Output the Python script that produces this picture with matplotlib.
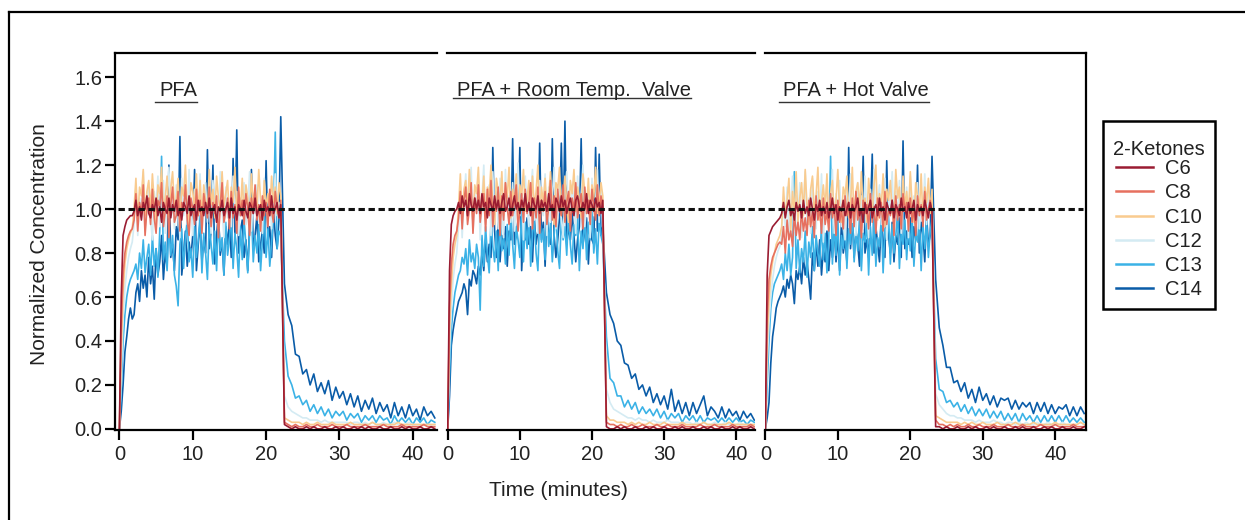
import numpy as np
import matplotlib
matplotlib.use("Agg")
import matplotlib.pyplot as plt
from matplotlib.lines import Line2D
from matplotlib import transforms
from matplotlib.offsetbox import DrawingArea

plt.rcParams['font.family'] = ['Liberation Sans', 'DejaVu Sans']
plt.rcParams['lines.scale_dashes'] = False

W, H, DPI = 1245, 520, 100

# ---------------- data ----------------
ON_STEP_MIN = 0.25    # sampling interval while the ketones flow (minutes)
OFF_STEP_MIN = 0.5    # sampling interval after the flow is switched off
REFERENCE_LEVEL = 1.0
panel_titles = ["PFA", "PFA + Room Temp.  Valve", "PFA + Hot Valve"]
ketones = ["C6", "C8", "C10", "C12", "C13", "C14"]
ketone_colors = ["#9A1C32", "#E6705F", "#F9CB8F", "#D4EBF3", "#3BB2E6", "#0A5CA8"]
x_ticks = [0, 10, 20, 30, 40]
x_tick_labels = ["0", "10", "20", "30", "40"]
y_ticks = [0.0, 0.2, 0.4, 0.6, 0.8, 1.0, 1.2, 1.4, 1.6]
y_tick_labels = ["0.0", "0.2", "0.4", "0.6", "0.8", "1.0", "1.2", "1.4", "1.6"]
x_label = "Time (minutes)"
y_label = "Normalized Concentration"
legend_title = "2-Ketones"

# normalized concentration x100
# ---- panel 1: PFA ----
p1_c6_on = """0 60 88 92 95 96 97 97
99 104 97 101 95 103 100 106 98 96
102 99 105 97 101 94 103 100 98 105
96 102 99 104 97 100 95 103 101 98
106 97 100 102 95 104 99 101 97 103
98 105 96 100 102 94 101 99 104 97
100 103 96 105 98 101 95 102 100 97
104 99 96 103 101 98 105 97 100 102
95 104 99 101 97 106 98 100 103 96
102"""
p1_c6_off = """2 1 0 1 0 0 1 0 1 0 0 1 0 0 1 0 1 0 0 1
0 1 0 1 0 0 1 0 0 1 0 0 1 0 1 0 0 1 0 0 1 0"""
p1_c8_on = """0 45 70 80 85 88 90 91
95 107 90 103 98 111 88 100 105 93
109 96 89 104 101 112 92 99 106 87
102 110 94 97 108 90 103 99 111 95
88 105 100 93 109 97 104 89 107 101
96 110 92 103 98 106 87 101 112 94
99 105 91 108 96 102 89 110 97 104
93 107 100 88 105 98 111 95 102 90
106 97 103 92 109 99 94 108 101 96
104"""
p1_c8_off = """3 2 1 2 1 1 2 1 1 2 1 1 1 2 1 1 1 2 1 1
1 1 2 1 1 1 1 2 1 1 1 1 2 1 1 1 1 1 2 1 1 1"""
p1_c10_on = """0 35 62 75 82 86 89 91
100 114 95 110 106 118 97 108 113 99
116 103 94 111 107 119 98 105 115 96
109 117 101 104 114 95 110 106 120 99
93 112 108 100 116 97 113 95 111 104
98 118 102 109 96 115 105 99 117 101
107 113 94 110 103 119 97 108 100 114
96 111 105 93 116 102 109 99 118 104
95 113 100 107 97 115 103 110 98 112
106"""
p1_c10_off = """5 4 3 3 3 2 3 2 2 3 2 2 2 3 2 2 2 2 3 2
2 2 2 2 3 2 2 2 2 2 2 3 2 2 2 2 2 2 2 2 2 2"""
p1_c12_on = """0 25 50 64 72 78 82 85
93 110 88 105 99 117 90 102 112 95
86 108 101 115 92 98 113 89 104 119
96 107 91 111 100 87 114 97 106 93
118 99 88 109 103 95 116 90 101 112
94 106 89 113 98 104 91 117 100 87
110 96 103 92 115 99 108 88 105 97
112 93 101 117 90 106 98 111 94 102
89 114 100 96 108 91 104 116 97 103
99"""
p1_c12_off = """15 10 8 7 6 5 5 4 4 4 3 4 3 3 3 3 3 3 2 3
3 2 3 2 3 2 2 3 2 2 3 2 2 2 3 2 2 2 2 2 2 2"""
p1_c13_on = """0 18 40 52 60 65 68 70 72
75 68 80 73 86 71 78 84 70 88
74 82 69 90 124 77 85 72 93 79
88 70 65 56 84 91 73 87 95 76
82 69 92 78 86 97 71 89 80 68
93 84 75 90 72 96 81 87 70 94
79 86 98 73 89 82 69 92 77 95
84 71 90 99 76 88 80 93 72 86
97 78 91 74 85 96 135 82 90 88"""
p1_c13_off = """40 24 20 14 15 11 13 8 11 7 10 6 9 5 8 6 8 4 7 5
7 3 6 4 6 3 6 4 5 2 6 3 5 3 5 2 5 3 5 2 4 3"""
p1_c14_on = """0 8 20 35 42 50 55 50 52
62 66 58 72 64 70 60 78 66 74
59 82 70 76 88 68 80 74 120 78
84 72 92 86 133 70 80 90 74 85
78 88 118 72 84 94 76 86 80 127
82 90 120 75 88 98 79 86 70 92
84 95 78 123 88 136 80 90 95 78
86 72 92 118 82 88 97 76 84 90
80 122 85 92 78 100 88 82 95 142"""
p1_c14_off = """66 52 47 34 33 25 27 20 25 17 21 16 22 13 19 14 17 11 16 10
15 8 13 9 14 7 12 8 11 5 12 6 10 5 11 6 9 4 10 6 8 5"""

# ---- panel 2: PFA + Room Temp. Valve ----
p2_c6_on = """0 72 93 97 99 100
103 98 106 101 104 97 107 102 99 105
100 104 98 107 101 103 96 105 102 99
106 100 104 98 103 107 99 101 105 97
102 106 100 103 98 104 101 107 99 103
97 105 102 100 106 98 104 101 103 99
107 100 102 96 105 103 99 106 101 104
98 102 105 100 97 104 106 101 99 103
100 107 98 104 102 99 105 101 103 98
104"""
p2_c6_off = """1 0 0 1 0 1 0 0 1 0 0 1 0 1 0 0 1 0 0 1
0 1 0 0 1 0 0 1 0 1 0 0 1 0 0 1 0 1 0 0 1 0"""
p2_c8_on = """0 55 75 84 88 90
96 108 91 104 110 93 100 112 89 105
98 111 94 102 107 90 109 97 113 92
103 99 110 88 106 95 112 101 93 108
97 104 111 90 100 107 94 109 98 103
112 91 105 96 110 89 104 99 108 93
101 113 95 106 92 109 100 97 111 94
103 108 90 105 99 112 96 102 107 91
110 98 104 93 109 101 95 111 97 106
100"""
p2_c8_off = """3 2 2 1 2 1 1 2 1 1 2 1 1 1 2 1 1 2 1 1
1 2 1 1 1 1 2 1 1 1 2 1 1 1 1 2 1 1 1 1 2 1"""
p2_c10_on = """0 45 65 78 84 88
101 116 96 109 113 99 118 104 94 111
107 119 98 103 115 95 110 106 120 100
93 114 108 101 117 97 112 105 119 96
109 102 116 94 111 106 118 99 104 113
97 115 101 108 120 95 110 103 114 98
106 117 100 93 112 109 119 97 105 115
102 94 113 107 118 99 110 104 96 116
108 100 114 97 111 105 119 98 103 112
106"""
p2_c10_off = """6 4 4 3 3 3 2 3 2 3 2 2 3 2 2 2 3 2 2 2
2 3 2 2 2 2 2 3 2 2 2 2 2 2 3 2 2 2 2 2 2 2"""
p2_c12_on = """0 35 55 68 75 80
92 110 87 104 116 95 101 119 89 107
98 113 86 105 120 93 100 111 88 117
96 108 91 114 102 87 118 99 106 94
112 90 103 121 97 109 86 115 100 92
107 118 95 104 89 113 101 97 116 88
110 94 105 119 91 102 112 96 87 108
117 99 93 111 104 89 115 98 106 120
92 101 109 87 114 97 103 118 94 110
100"""
p2_c12_off = """18 12 9 8 7 6 5 5 4 5 4 4 3 4 3 3 3 4 3 3
3 2 3 3 2 3 2 3 2 2 3 2 2 3 2 2 2 3 2 2 2 2"""
p2_c13_on = """0 25 45 55 62 66 70
72 78 75 82 70 86 76 80 73 84
78 54 88 74 92 79 71 95 83 76
90 72 97 81 88 75 93 79 99 84
73 92 86 78 100 76 94 82 97 74
89 95 80 72 98 85 91 77 100 83
94 76 88 99 81 73 96 86 92 79
100 84 75 93 88 97 72 90 82 98
77 94 86 99 80 91 75 96 88 84"""
p2_c13_off = """42 23 21 15 15 10 13 9 12 7 10 7 9 6 9 5 8 4 7 5
7 3 6 4 6 3 6 3 5 4 5 3 5 3 5 3 5 3 4 2 4 3"""
p2_c14_on = """0 15 38 45 50 54 58 60 62
66 63 52 68 65 72 70 66 74 70
80 72 86 76 84 78 128 90 78 94
76 88 82 92 74 90 86 132 84 88
95 128 72 90 86 96 84 92 76 96
84 90 130 86 94 74 98 88 84 132
88 78 86 96 130 90 140 84 92 86
98 88 76 86 92 132 84 90 96 75
92 86 84 128 90 125 88 92"""
p2_c14_off = """62 52 48 40 38 30 29 23 25 18 20 15 19 12 16 11 15 9 18 8
13 7 12 6 12 7 11 15 6 10 8 5 10 5 9 6 8 4 8 5 7 4"""

# ---- panel 3: PFA + Hot Valve ----
p3_c6_on = """0 70 88 90 92 93 94 95 96
98 103 96 101 104 97 100 95 103 99
102 96 104 98 101 97 105 100 95 102
99 104 97 101 98 103 96 100 105 98
102 95 101 99 104 97 100 103 96 102
99 101 105 97 100 94 103 98 101 104
96 100 102 97 105 99 101 95 103 100
98 104 96 102 100 97 105 99 101 96
103 98 100 104 95 102 99 101 97 104
100 96 103 99"""
p3_c6_off = """1 1 0 1 0 0 1 0 0 1 0 1 0 0 1 0 1 0 0 1
0 0 1 0 1 0 0 1 0 0 1 0 1 0 0 1 0 0 1 0 0 1"""
p3_c8_on = """0 50 68 74 78 80 82 84 85
84 92 80 95 86 90 83 98 88 94
86 100 90 96 88 104 92 99 87 106
95 101 89 105 93 99 90 107 96 102
88 104 94 100 91 106 97 103 89 105
92 108 95 100 87 104 98 102 91 107
94 101 89 105 96 103 90 108 93 100
97 104 88 106 95 102 91 107 99 103
90 105 94 101 88 106 97 102 92 108
95 100 104 98"""
p3_c8_off = """4 2 2 1 2 1 2 1 1 2 1 1 2 1 1 1 2 1 1 1
2 1 1 1 2 1 1 1 1 2 1 1 1 2 1 1 1 1 2 1 1 1"""
p3_c10_on = """0 40 58 70 76 80 84 86 88
92 110 96 104 114 90 108 99 117 94
105 112 97 118 101 93 109 115 98 106
119 95 103 111 100 116 92 107 113 97
104 118 99 94 110 106 115 96 102 119
93 108 112 100 117 97 105 94 114 103
98 111 120 95 107 101 116 92 109 104
113 99 96 118 105 110 93 115 101 108
97 117 102 94 112 106 99 116 95 110
103 114 98 109"""
p3_c10_off = """6 5 4 3 3 3 3 2 3 2 3 2 2 3 2 2 2 3 2 2
2 2 3 2 2 2 2 3 2 2 2 2 2 3 2 2 2 2 2 2 3 2"""
p3_c12_on = """0 30 48 60 68 74 78 81 83
88 104 92 110 86 99 115 90 106 95
112 87 101 117 93 105 89 114 98 91
108 96 116 85 103 111 94 100 118 89
107 97 113 92 102 86 110 99 116 94
104 88 112 97 106 91 115 100 87 109
95 118 90 103 111 93 98 114 86 105
101 117 92 108 96 113 89 104 99 110
87 115 94 106 100 112 91 103 97 116
93 108 99 105"""
p3_c12_off = """16 11 9 7 6 6 5 5 4 4 4 3 4 3 3 3 4 3 3 2
3 3 2 3 2 3 2 2 3 2 2 3 2 2 2 3 2 2 2 2 3 2"""
p3_c13_on = """0 20 40 55 62 66 68 70 72
75 68 80 72 84 70 78 117 73 86
71 82 76 90 69 85 78 92 72 88
80 74 94 77 89 71 86 124 75 93
79 96 70 88 82 95 73 91 84 98
76 90 81 97 72 89 85 94 70 92
79 98 74 87 83 96 71 91 86 97
75 93 80 88 98 73 90 84 95 77
92 81 97 74 89 85 96 72 93 82
95 78 90 95"""
p3_c13_off = """32 18 17 12 13 10 12 8 11 7 10 6 9 6 9 5 8 5 8 4
7 4 7 3 7 4 6 3 6 3 6 3 6 3 6 3 6 3 5 3 5 3"""
p3_c14_on = """0 5 12 30 42 48 55 58 60
62 65 60 68 64 70 66 57 72 68
74 66 78 70 76 68 59 80 72 84
74 86 70 82 76 90 72 86 78 92
76 88 72 94 80 86 76 128 82 96
78 90 84 74 96 124 80 86 78 98
125 80 92 84 76 96 86 78 122 88
80 94 76 88 84 96 78 131 82 90
84 96 78 92 86 120 80 94 88 76
97 84 88 124"""
p3_c14_off = """68 46 38 28 28 21 22 17 21 14 18 12 19 13 16 11 15 10 14 13
14 9 13 9 12 10 12 7 12 8 12 7 11 7 10 9 11 6 10 6 10 7"""

panel_series = [
    [(p1_c6_on, p1_c6_off), (p1_c8_on, p1_c8_off), (p1_c10_on, p1_c10_off),
     (p1_c12_on, p1_c12_off), (p1_c13_on, p1_c13_off), (p1_c14_on, p1_c14_off)],
    [(p2_c6_on, p2_c6_off), (p2_c8_on, p2_c8_off), (p2_c10_on, p2_c10_off),
     (p2_c12_on, p2_c12_off), (p2_c13_on, p2_c13_off), (p2_c14_on, p2_c14_off)],
    [(p3_c6_on, p3_c6_off), (p3_c8_on, p3_c8_off), (p3_c10_on, p3_c10_off),
     (p3_c12_on, p3_c12_off), (p3_c13_on, p3_c13_off), (p3_c14_on, p3_c14_off)],
]


def parse(s):
    return np.array(s.split(), dtype=float) / 100.0


def build(on_str, off_str):
    on = parse(on_str)
    off = parse(off_str)
    t_on = ON_STEP_MIN * np.arange(len(on))
    t_off = t_on[-1] + OFF_STEP_MIN * np.arange(1, len(off) + 1)
    return np.concatenate([t_on, t_off]), np.concatenate([on, off]), len(on), len(off)


# ---------------- layout ----------------
def fx(px):
    return px / W


def fy(py):
    return 1 - py / H


panel_px = [(115, 437), (447, 755), (765, 1086)]
x_limits = [(-0.6, 43.3), (-0.1, 42.6), (-0.05, 44.25)]
top_px, bottom_px = 53, 430
y_limits = (-0.005, 1.71)
FS = 14.5

fig = plt.figure(figsize=(W / DPI, H / DPI), dpi=DPI)
fig.patch.set_facecolor("white")

axes = []
legend_handles = {}
for i, (l, r) in enumerate(panel_px):
    ax = fig.add_axes([fx(l), fy(bottom_px), fx(r) - fx(l), fy(top_px) - fy(bottom_px)])
    axes.append(ax)
    built = [build(a, b) for a, b in panel_series[i]]
    lens = [(b[2], b[3]) for b in built]
    assert len(set(lens)) == 1, (i, lens)
    for j in reversed(range(len(ketones))):
        t, v, _, _ = built[j]
        ln, = ax.plot(t, v, color=ketone_colors[j], lw=1.2,
                      solid_joinstyle="round", zorder=2 + (5 - j) * 0.1)
        if i == 0:
            legend_handles[ketones[j]] = ln
    ax.set_xlim(*x_limits[i])
    ax.set_ylim(*y_limits)
    ax.set_xticks(x_ticks)
    ax.set_xticklabels(x_tick_labels)
    for sp in ax.spines.values():
        sp.set_linewidth(1.6)
        sp.set_color("black")
    ax.spines["right"].set_visible(i == 2)
    ax.spines["left"].set_visible(i == 0)
    ax.tick_params(axis="x", direction="out", length=7, width=1.6,
                   labelsize=FS, pad=4, colors="black", labelcolor="#222222")
    if i == 0:
        ax.set_yticks(y_ticks)
        ax.set_yticklabels(y_tick_labels)
        ax.tick_params(axis="y", direction="out", length=7, width=1.6,
                       labelsize=FS, pad=2, colors="black", labelcolor="#222222")
    else:
        ax.tick_params(axis="y", left=False, labelleft=False)
    ax.set_facecolor("none")

# dotted reference line across all panels
blend = transforms.blended_transform_factory(fig.transFigure, axes[0].transData)
fig.add_artist(Line2D([fx(118), fx(1083)], [REFERENCE_LEVEL, REFERENCE_LEVEL],
                      transform=blend, color="#111111", lw=2.2,
                      linestyle=(0, (4.6, 2.6)), zorder=5))

# panel titles
title_px = [(159, 96), (457, 96), (783, 96)]
title_texts = []
for (px, py), ttl in zip(title_px, panel_titles):
    title_texts.append(fig.text(fx(px), fy(py), ttl, fontsize=FS, color="#222222",
                                ha="left", va="baseline"))

# axis labels
fig.text(fx(558), fy(491), x_label, fontsize=15, color="#222222", ha="center", va="center")
fig.text(fx(40), fy(244), y_label, fontsize=15, color="#222222", ha="center",
         va="center", rotation=90)

# legend
leg = fig.legend([legend_handles[k] for k in ketones], ketones, title=legend_title,
                 loc="upper left", bbox_to_anchor=(fx(1103), fy(121)),
                 bbox_transform=fig.transFigure, borderaxespad=0,
                 fontsize=FS, title_fontsize=FS, frameon=True, fancybox=False,
                 framealpha=1, edgecolor="black", borderpad=0.5,
                 handlelength=1.8, handletextpad=0.6, labelspacing=0.26)
leg.get_frame().set_linewidth(1.8)
for txt in leg.get_texts():
    txt.set_color("#222222")
leg.get_title().set_color("#222222")
for lh in leg.legend_handles:
    lh.set_linewidth(1.8)
try:
    box = leg._legend_box
    box.sep = 0.0
    box.get_children().insert(0, DrawingArea(1, 6.5))
except Exception:
    pass

# outer frame
fig.add_artist(Line2D([fx(9), fx(9)], [0, fy(12)], transform=fig.transFigure,
                      color="black", lw=1.6))
fig.add_artist(Line2D([fx(9), 1], [fy(12), fy(12)], transform=fig.transFigure,
                      color="black", lw=1.6))

# underlines
fig.canvas.draw()
renderer = fig.canvas.get_renderer()


def underline(txt, left_ext=4):
    bb = txt.get_window_extent(renderer)
    _, _, d = renderer.get_text_width_height_descent(txt.get_text(),
                                                     txt.get_fontproperties(), ismath=False)
    y = bb.y0 + d - 1.5
    fig.add_artist(Line2D([(bb.x0 - left_ext) / W, bb.x1 / W], [y / H, y / H],
                          transform=fig.transFigure, color="#333333", lw=1.0))


for tt in title_texts:
    underline(tt)
underline(leg.get_title())

fig.savefig("out.png", dpi=DPI, facecolor="white")
